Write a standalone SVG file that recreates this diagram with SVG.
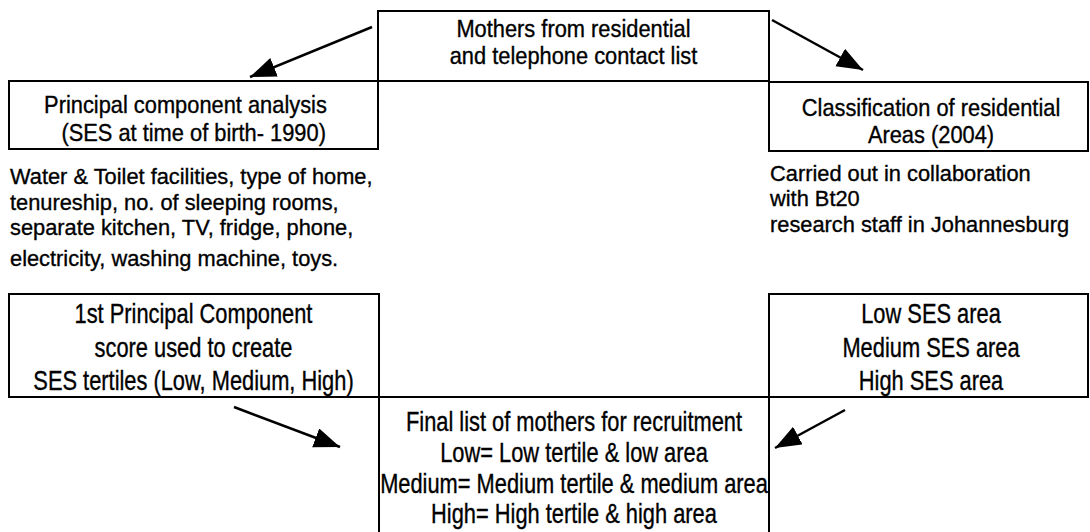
<svg xmlns="http://www.w3.org/2000/svg" width="1090" height="532" viewBox="0 0 1090 532">
<style>
.box{fill:#fff;stroke:#000;stroke-width:2}
.t{font-family:"Liberation Sans",Arial,sans-serif;font-size:24px;fill:#000;stroke:#000;stroke-width:0.35}
.d{font-size:22.5px}
.l{font-size:27px}
.c{text-anchor:middle}
.conn line{stroke:#000;stroke-width:2.5}
</style>
<defs>
<marker id="ah" markerUnits="userSpaceOnUse" markerWidth="28" markerHeight="22" refX="26" refY="10" orient="auto">
<path d="M0,0 L26,10 L0,20 z" fill="#000"/>
</marker>
</defs>
<rect width="1090" height="532" fill="#fff"/>
<g id="top">
<rect class="box" x="378" y="11" width="391" height="70"/>
<g transform="translate(573.5,0) scale(0.91,1)">
<text class="t c" x="0" y="37">Mothers from residential</text>
<text class="t c" x="0" y="64">and telephone contact list</text>
</g>
</g>
<g id="pca">
<rect class="box" x="9" y="81" width="369" height="68"/>
<g transform="translate(190,0) scale(0.91,1)">
<text class="t c" x="-5" y="113">Principal component analysis</text>
<text class="t c" x="4" y="141">(SES at time of birth- 1990)</text>
</g>
</g>
<g id="classif">
<rect class="box" x="769" y="82" width="319" height="69"/>
<g transform="translate(931,0) scale(0.91,1)">
<text class="t c" x="0" y="116">Classification of residential</text>
<text class="t c" x="0" y="143">Areas (2004)</text>
</g>
</g>
<g id="pca-desc" transform="translate(10,0) scale(0.97,1)">
<text class="t d" x="0" y="184.5">Water &amp; Toilet facilities, type of home,</text>
<text class="t d" x="0" y="210">tenureship, no. of sleeping rooms,</text>
<text class="t d" x="0" y="235.5">separate kitchen, TV, fridge, phone,</text>
<text class="t d" x="0" y="266">electricity, washing machine, toys.</text>
</g>
<g id="classif-desc" transform="translate(770,0) scale(0.97,1)">
<text class="t d" x="0" y="181">Carried out in collaboration</text>
<text class="t d" x="0" y="206.5">with Bt20</text>
<text class="t d" x="0" y="232">research staff in Johannesburg</text>
</g>
<g id="tertiles">
<rect class="box" x="9" y="294" width="370" height="103"/>
<g transform="translate(193.5,0) scale(0.809,1)">
<text class="t c l" x="0" y="323">1st Principal Component</text>
<text class="t c l" x="0" y="357">score used to create</text>
<text class="t c l" x="0" y="390">SES tertiles (Low, Medium, High)</text>
</g>
</g>
<g id="areas">
<rect class="box" x="769" y="294" width="319" height="103"/>
<g transform="translate(931,0) scale(0.809,1)">
<text class="t c l" x="0" y="323">Low SES area</text>
<text class="t c l" x="0" y="357">Medium SES area</text>
<text class="t c l" x="0" y="390">High SES area</text>
</g>
</g>
<g id="final">
<rect class="box" x="379" y="397" width="390" height="140"/>
<g transform="translate(574,0) scale(0.809,1)">
<text class="t c l" x="0" y="431">Final list of mothers for recruitment</text>
<text class="t c l" x="0" y="462">Low= Low tertile &amp; low area</text>
<text class="t c l" x="0" y="493">Medium= Medium tertile &amp; medium area</text>
<text class="t c l" x="0" y="523">High= High tertile &amp; high area</text>
</g>
</g>
<g id="connectors" class="conn">
<line x1="372" y1="27" x2="250" y2="77" marker-end="url(#ah)"/>
<line x1="772" y1="20" x2="863" y2="70" marker-end="url(#ah)"/>
<line x1="234" y1="407" x2="340" y2="447" marker-end="url(#ah)"/>
<line x1="845" y1="410" x2="775" y2="448" marker-end="url(#ah)"/>
</g>
</svg>
